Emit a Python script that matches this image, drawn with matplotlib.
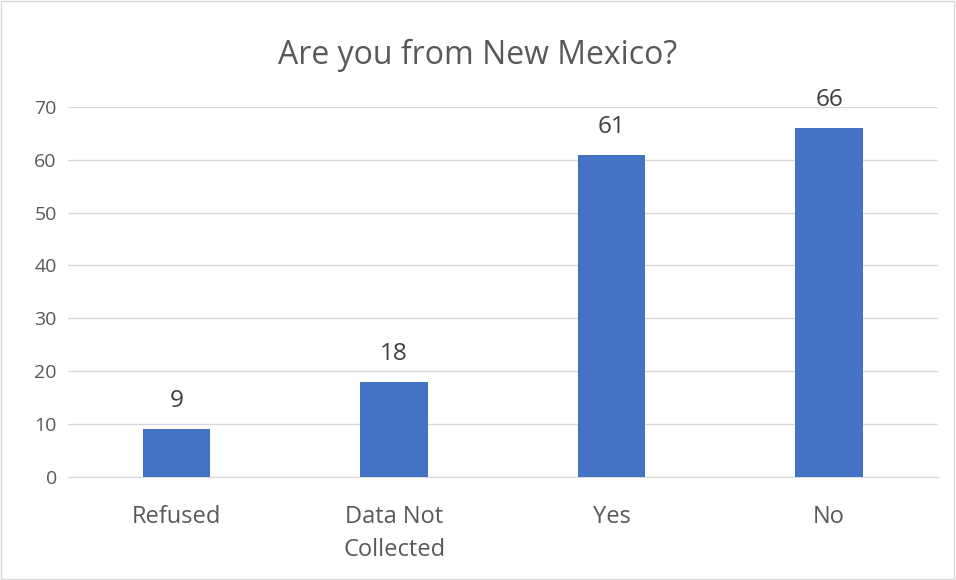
import matplotlib.pyplot as plt
from matplotlib.patches import Rectangle

plt.rcParams['font.family'] = ['Open Sans', 'DejaVu Sans']

categories = ['Refused', 'Data Not\nCollected', 'Yes', 'No']
counts = [9, 18, 61, 66]
yticks = [0, 10, 20, 30, 40, 50, 60, 70]

bar_color = '#4472C4'
text_color = '#595959'
grid_color = '#D9D9D9'

fig = plt.figure(figsize=(9.56, 5.8), dpi=100)
ax = fig.add_axes([0.071, 0.178, 0.91, 0.6375])

x = range(len(categories))
bars = ax.bar(x, counts, width=0.31, color=bar_color, zorder=3)
for b, v in zip(bars, counts):
    ax.text(b.get_x() + b.get_width() / 2, v + 3.0, str(v),
            ha='center', va='bottom', fontsize=17.5, color='#404040')

ax.set_xlim(-0.5, len(categories) - 0.5)
ax.set_ylim(0, 70)
ax.set_yticks(yticks)
ax.set_xticks(list(x))
ax.set_xticklabels(categories, fontsize=17, color=text_color, linespacing=1.5)
ax.tick_params(axis='y', labelsize=14, colors=text_color, length=0, pad=8)
ax.tick_params(axis='x', length=0, pad=20)
ax.yaxis.grid(True, color=grid_color, linewidth=1, zorder=0)
for s in ['top', 'right', 'left']:
    ax.spines[s].set_visible(False)
ax.spines['bottom'].set_color(grid_color)

fig.text(0.5, 0.905, 'Are you from New Mexico?', ha='center', va='center',
         fontsize=23, color=text_color)

fig.patches.append(Rectangle((0.001, 0.001), 0.997, 0.997, transform=fig.transFigure,
                             fill=False, edgecolor=grid_color, linewidth=1))

fig.savefig('out.png', dpi=100)
